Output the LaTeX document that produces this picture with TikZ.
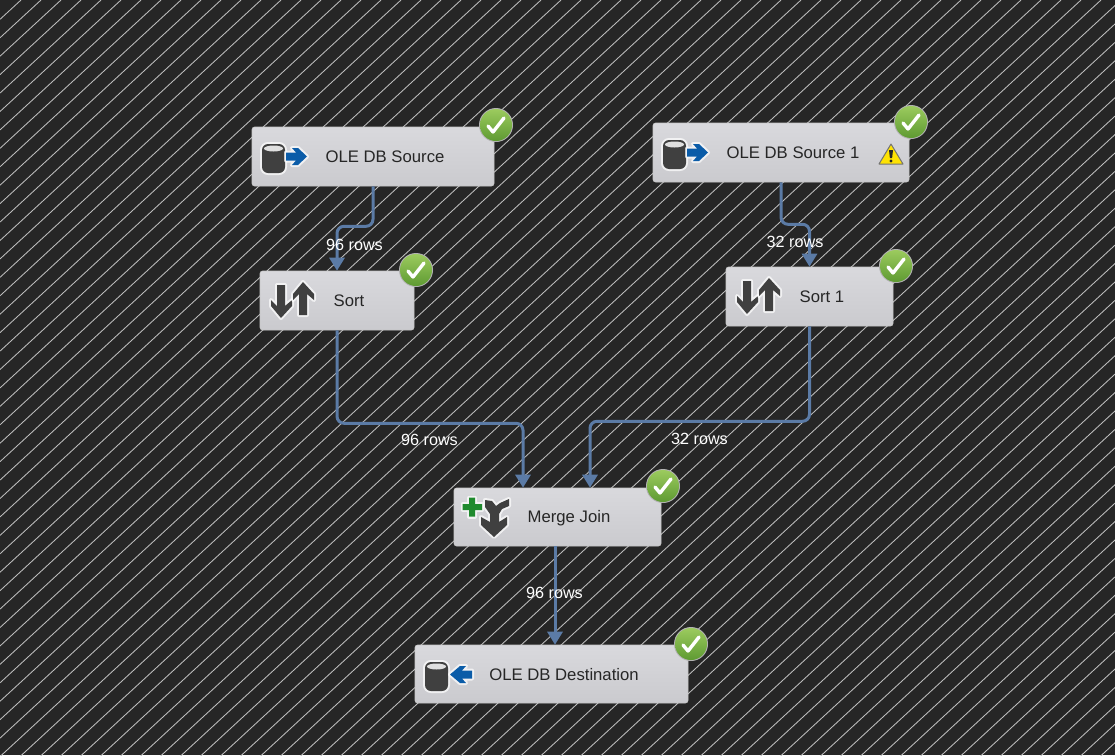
\documentclass[tikz,border=0pt]{standalone}
\usepackage{fontspec}
\setmainfont{Liberation Sans}
\usetikzlibrary{arrows.meta}
\definecolor{bgdark}{HTML}{262626}
\definecolor{stripe}{HTML}{BEBEBE}
\definecolor{flow}{HTML}{5B7BA6}
\definecolor{boxtop}{HTML}{D9D9DD}
\definecolor{boxbot}{HTML}{CACACE}
\definecolor{icondark}{HTML}{404040}
\definecolor{iconblue}{HTML}{0B5CA8}
\definecolor{okhi}{HTML}{9CCB5E}
\definecolor{oklo}{HTML}{5E9A32}
\definecolor{plusgreen}{HTML}{1F8A2E}
\tikzset{
  x=1pt,y=-1pt,
  task/.style={draw=black!22,line width=0.6pt,rounded corners=2.5pt,top color=boxtop,bottom color=boxbot,inner sep=0pt},
  tasktext/.style={font=\fontsize{16.7}{18}\selectfont,text=black!85,inner sep=0pt},
  rowtext/.style={font=\fontsize{16.2}{18}\selectfont,text=white,inner sep=0pt},
  flowline/.style={draw=flow,line width=3pt,rounded corners=7pt,-{Triangle[length=13pt,width=15pt]}},
  halo/.style={draw=white,fill=white,draw opacity=0.7,line width=4pt,line join=round},
  pics/okmark/.style={code={
    \fill[black!30] (0,0) circle (17pt);
    \shade[top color=okhi,bottom color=oklo] (0,0) circle (16pt);
    \draw[white,line width=3.4pt,line cap=round,line join=round] (-8,1) -- (-3,7) -- (8,-7);
  }},
  pics/dbcyl/.style={code={
    \path[halo,rounded corners=6pt] (262,144) rectangle (285,173);
    \fill[icondark,rounded corners=6pt] (262,144) rectangle (285,173);
    \fill[white!88!black] (273.5,148.5) ellipse[x radius=9.5,y radius=3];
  }},
  pics/bluearrowout/.style={code={
    \path[halo] (286,152.5) -- (296,152.5) -- (292,148) -- (298,148) -- (307,156.5) -- (298,165) -- (292,165) -- (296,160.5) -- (286,160.5) -- cycle;
    \fill[iconblue] (286,152.5) -- (296,152.5) -- (292,148) -- (298,148) -- (307,156.5) -- (298,165) -- (292,165) -- (296,160.5) -- (286,160.5) -- cycle;
  }},
  pics/bluearrowin/.style={code={
    \path[halo] (309,152.5) -- (299,152.5) -- (303,148) -- (297,148) -- (287,156.5) -- (297,165) -- (303,165) -- (299,160.5) -- (309,160.5) -- cycle;
    \fill[iconblue] (309,152.5) -- (299,152.5) -- (303,148) -- (297,148) -- (287,156.5) -- (297,165) -- (303,165) -- (299,160.5) -- (309,160.5) -- cycle;
  }},
  pics/sorticon/.style={code={
    \path[halo] (277,285) -- (285,285) -- (285,306) -- (292,300) -- (292,306) -- (281,318) -- (271,306) -- (271,300) -- (277,306) -- cycle;
    \fill[icondark] (277,285) -- (285,285) -- (285,306) -- (292,300) -- (292,306) -- (281,318) -- (271,306) -- (271,300) -- (277,306) -- cycle;
    \path[halo] (299,315) -- (307,315) -- (307,294) -- (314,300) -- (314,294) -- (303,282) -- (293,294) -- (293,300) -- (299,294) -- cycle;
    \fill[icondark] (299,315) -- (307,315) -- (307,294) -- (314,300) -- (314,294) -- (303,282) -- (293,294) -- (293,300) -- (299,294) -- cycle;
  }},
  pics/mergeicon/.style={code={
    \path[halo] (469,497.5) -- (475,497.5) -- (475,504) -- (482,504) -- (482,510) -- (475,510) -- (475,516.5) -- (469,516.5) -- (469,510) -- (462.5,510) -- (462.5,504) -- (469,504) -- cycle;
    \fill[plusgreen] (469,497.5) -- (475,497.5) -- (475,504) -- (482,504) -- (482,510) -- (475,510) -- (475,516.5) -- (469,516.5) -- (469,510) -- (462.5,510) -- (462.5,504) -- (469,504) -- cycle;
    \path[halo] (485,500) -- (492,501) -- (496,506) -- (500,503) -- (509,499) -- (509,506) -- (502,509) -- (499,514) -- (499,522) -- (507,517) -- (507,525) -- (494,537) -- (481,525) -- (481,517) -- (490,522) -- (490,514) -- (485,507) -- cycle;
    \fill[icondark] (485,500) -- (492,501) -- (496,506) -- (500,503) -- (509,499) -- (509,506) -- (502,509) -- (499,514) -- (499,522) -- (507,517) -- (507,525) -- (494,537) -- (481,525) -- (481,517) -- (490,522) -- (490,514) -- (485,507) -- cycle;
  }},
  pics/warnicon/.style={code={
    \fill[yellow!85!orange,draw=black!55,line width=1pt,line join=round] (0,-10) -- (12,10) -- (-12,10) -- cycle;
    \fill[black!85] (-2,-4) -- (2,-4) -- (1.1,4) -- (-1.1,4) -- cycle;
    \fill[black!85] (0,7) circle (1.7pt);
  }}
}
\begin{document}
\begin{tikzpicture}
\useasboundingbox (0,0) rectangle (1115,755);
\fill[bgdark] (0,0) rectangle (1115,755);
\begin{scope}
\clip (0,0) rectangle (1115,755);
\foreach \k in {1,...,98} {
  \pgfmathsetmacro{\cx}{20*(\k+0.05)}
  \pgfmathsetmacro{\cy}{18.43*(\k+0.05)}
  \draw[stripe,line width=0.85pt] (\cx,0) -- (0,\cy);
}
\end{scope}

% task boxes
\node[task,minimum width=242pt,minimum height=59pt] (src) at (373,156.5) {};
\node[task,minimum width=256pt,minimum height=59pt] (srcb) at (781,152.5) {};
\node[task,minimum width=154pt,minimum height=59pt] (sorta) at (337,300.5) {};
\node[task,minimum width=167pt,minimum height=59pt] (sortb) at (809.5,296.5) {};
\node[task,minimum width=207pt,minimum height=58pt] (merge) at (557.5,517) {};
\node[task,minimum width=273pt,minimum height=58pt] (dest) at (551.5,674) {};

% connectors
\draw[flowline] (src.south) -- ++(0,40) -| (sorta.north);
\draw[flowline] (srcb.south) -- ++(0,42) -| (sortb.north);
\draw[flowline] (sorta.south) -- ++(0,93) -| ([xshift=-34.5pt]merge.north);
\draw[flowline] (sortb.south) -- ++(0,95) -| ([xshift=32.5pt]merge.north);
\draw[flowline] ([xshift=-2.5pt]merge.south) -- ([xshift=3.5pt]dest.north);

% icons
\pic at (0,0) {dbcyl};
\pic at (0,0) {bluearrowout};
\pic at (401,-4) {dbcyl};
\pic at (401,-4) {bluearrowout};
\pic at (163,518) {dbcyl};
\pic at (163,518) {bluearrowin};
\pic at (0,0) {sorticon};
\pic at (466,-4) {sorticon};
\pic at (0,0) {mergeicon};
\pic at (891,154) {warnicon};

% texts
\node[tasktext] (t1) at (385,157) {OLE DB Source};
\node[tasktext] (t2) at (793,153) {OLE DB Source 1};
\node[tasktext] (t3) at (349,301) {Sort};
\node[tasktext] (t4) at (822,297) {Sort 1};
\node[tasktext] (t5) at (569,518) {Merge Join};
\node[tasktext] (t6) at (564,675) {OLE DB Destination};

\node[rowtext] (r1) at (354.5,245) {96 rows};
\node[rowtext] (r2) at (795,242) {32 rows};
\node[rowtext] (r3) at (429.5,440) {96 rows};
\node[rowtext] (r4) at (699.5,439) {32 rows};
\node[rowtext] (r5) at (554.5,593) {96 rows};

% status marks
\pic at (496,125) {okmark};
\pic at (911,122) {okmark};
\pic at (416,270) {okmark};
\pic at (896,266) {okmark};
\pic at (663,486) {okmark};
\pic at (691,644) {okmark};
\end{tikzpicture}
\end{document}
